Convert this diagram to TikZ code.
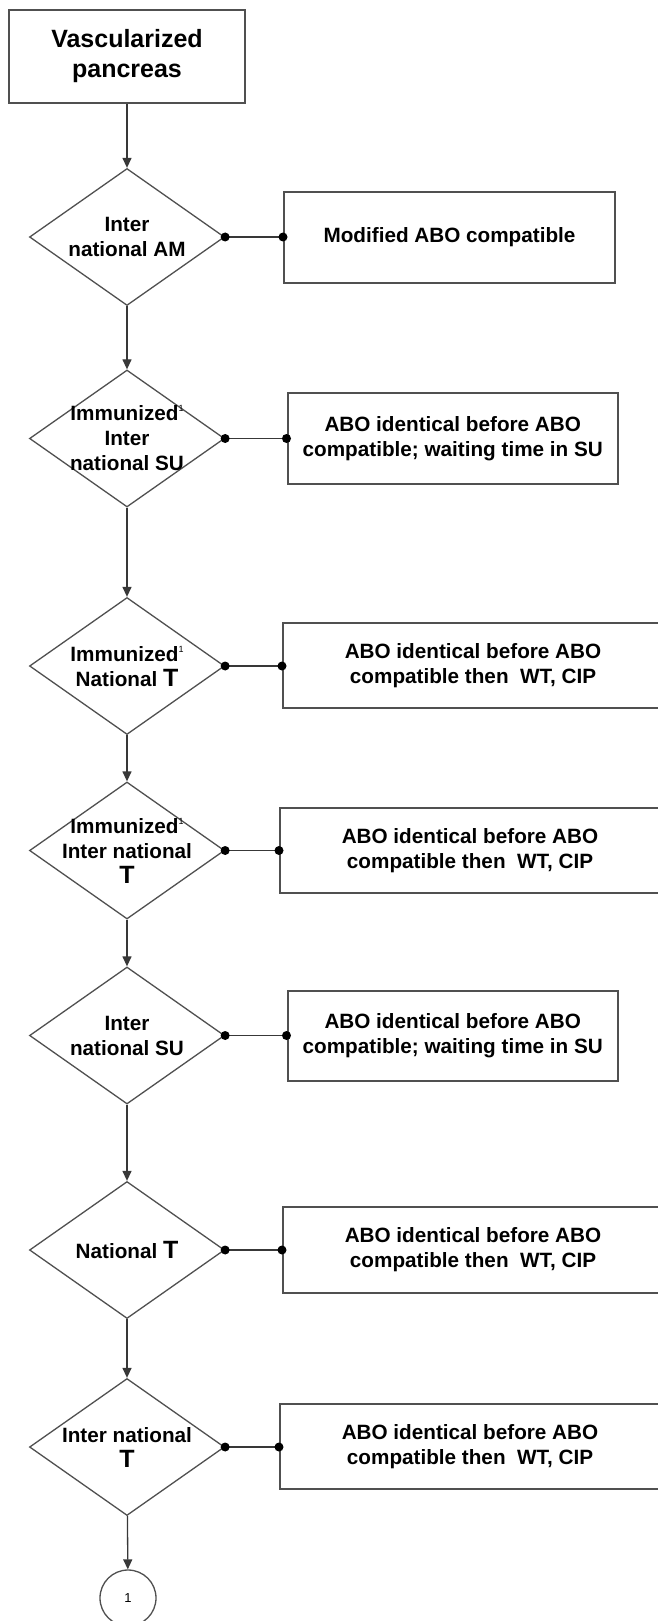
\documentclass[tikz,border=0pt]{standalone}
\usepackage{fontspec}
\setmainfont{Liberation Sans}
\usetikzlibrary{shapes.geometric,arrows.meta}
\definecolor{edge}{HTML}{505050}
\definecolor{ln}{HTML}{383838}
\newcommand\supone{\raisebox{9pt}{\fontsize{9}{9}\selectfont\mdseries 1}}
\newcommand\bigT{{\fontsize{25}{25}\selectfont T}}
\tikzset{
  lbl/.style={font=\fontsize{20.7}{25}\selectfont\bfseries, align=center, text=black},
  boxnode/.style={draw=edge, line width=2pt, rectangle, inner sep=0pt, lbl},
  dia/.style={draw=edge, line width=1.3pt, diamond, inner sep=0pt,
              minimum width=195pt, minimum height=137pt},
  arr/.style={draw=ln, line width=1.3pt, -{Triangle[length=10pt,width=9pt]}},
  conn/.style={draw=ln, line width=1.5pt},
  dotc/.style={fill=black}
}
\begin{document}
\begin{tikzpicture}[x=1pt,y=-1pt]
\useasboundingbox (0,0) rectangle (658,1621);
\clip (0,0) rectangle (658,1621);
\fill[white] (0,0) rectangle (658,1621);

% start box
\node[boxnode, minimum width=236pt, minimum height=93pt,
      font=\fontsize{25}{30}\selectfont\bfseries] (top) at (127,56.5) {Vascularized\\pancreas};

% diamonds
\node[dia] (d1) at (127,237) {};
\node[lbl] at (d1.center) {Inter\\national AM};
\node[dia] (d2) at (127,438.5) {};
\node[lbl] at (d2.center) {Immunized\supone\\Inter\\national SU};
\node[dia] (d3) at (127,666) {};
\node[lbl] at (d3.center) {Immunized\supone\\National \bigT};
\node[dia] (d4) at (127,850.5) {};
\node[lbl] at (d4.center) {Immunized\supone\\Inter national\\\bigT};
\node[dia] (d5) at (127,1035.5) {};
\node[lbl] at (d5.center) {Inter\\national SU};
\node[dia] (d6) at (127,1250) {};
\node[lbl] at (d6.center) {National \bigT};
\node[dia] (d7) at (127,1447) {};
\node[lbl] at (d7.center) {Inter national\\\bigT};

% connector circle
\node[circle, draw=edge, line width=1.3pt, minimum size=56pt, inner sep=0pt,
      font=\fontsize{13}{13}\selectfont] (c) at (128,1598) {1};

% result boxes
\node[boxnode, minimum width=331pt, minimum height=91pt] (b1) at (449.5,237.5) {Modified ABO compatible};
\node[boxnode, minimum width=330.5pt, minimum height=91pt] (b2) at (452.75,438.5) {ABO identical before ABO\\compatible; waiting time in SU};
\node[boxnode, minimum width=380pt, minimum height=85pt] (b3) at (473,665.5) {ABO identical before ABO\\compatible then\ \ WT, CIP};
\node[boxnode, minimum width=380pt, minimum height=85pt] (b4) at (470,850.5) {ABO identical before ABO\\compatible then\ \ WT, CIP};
\node[boxnode, minimum width=330.5pt, minimum height=90pt] (b5) at (452.75,1036) {ABO identical before ABO\\compatible; waiting time in SU};
\node[boxnode, minimum width=380pt, minimum height=86pt] (b6) at (473,1250) {ABO identical before ABO\\compatible then\ \ WT, CIP};
\node[boxnode, minimum width=380pt, minimum height=85pt] (b7) at (470,1446.5) {ABO identical before ABO\\compatible then\ \ WT, CIP};

% vertical flow
\draw[arr] (top) -- (d1);
\draw[arr] (d1) -- (d2);
\draw[arr] (d2) -- (d3);
\draw[arr] (d3) -- (d4);
\draw[arr] (d4) -- (d5);
\draw[arr] (d5) -- (d6);
\draw[arr] (d6) -- (d7);
\draw[arr] (d7) -- (c);

% side connectors with dots
\foreach \i in {1,...,7}{
  \draw[conn] (d\i.east) -- (d\i.east -| b\i.west);
  \fill[dotc] (d\i.east) circle (4.5pt);
  \fill[dotc] (d\i.east -| b\i.west) circle (4.5pt);
}
\end{tikzpicture}
\end{document}
